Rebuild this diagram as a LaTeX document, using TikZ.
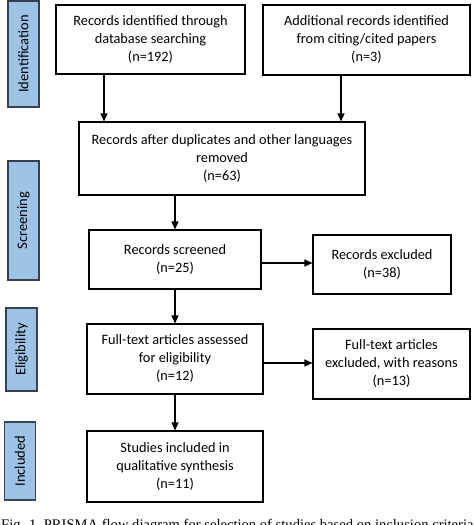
\documentclass[tikz,border=0pt]{standalone}
\usepackage{fontspec}
\setmainfont{Carlito}
\newfontfamily\capfont{Liberation Serif}
\usetikzlibrary{arrows.meta}
\definecolor{stageblue}{RGB}{157,195,230}
\definecolor{stageedge}{RGB}{55,65,80}
\begin{document}
\begin{tikzpicture}[x=1pt,y=-1pt,
  flowbox/.style={draw=black, line width=1.1pt, rectangle, align=center, inner sep=2pt,
     font=\fontsize{14.3}{18}\selectfont},
  stage/.style={draw=stageedge, line width=1.1pt, fill=stageblue, rectangle, rotate=90,
     inner sep=0pt, minimum height=31pt, font=\fontsize{14.5}{16}\selectfont},
  flowarrow/.style={-{Triangle[width=7pt,length=8pt]}, line width=1.3pt}]
\useasboundingbox (0,0) rectangle (474,525);
\clip (0,0) rectangle (474,525);
% stage labels
\node[stage, minimum width=106pt] (sid) at (23.5,54) {Identification};
\node[stage, minimum width=119pt] (ssc) at (23.5,220.5) {Screening};
\node[stage, minimum width=83pt] (sel) at (21.5,349.5) {Eligibility};
\node[stage, minimum width=78pt] (sin) at (20,461) {Included};
% boxes
\node[flowbox, minimum width=189pt, minimum height=69pt] (b1) at (150.5,39.5)
  {Records identified through\\database searching\\(n=192)};
\node[flowbox, minimum width=207pt, minimum height=70pt] (b2) at (366.5,40)
  {Additional records identified\\from citing/cited papers\\(n=3)};
\node[flowbox, minimum width=286pt, minimum height=73pt] (b3) at (222,158.5)
  {Records after duplicates and other languages\\removed\\(n=63)};
\node[flowbox, minimum width=172pt, minimum height=59pt] (b4) at (175,259.5)
  {Records screened\\(n=25)};
\node[flowbox, minimum width=138pt, minimum height=59pt] (b4x) at (382,264.5)
  {Records excluded\\(n=38)};
\node[flowbox, minimum width=176pt, minimum height=70pt] (b5) at (175,359)
  {Full-text articles assessed\\for eligibility\\(n=12)};
\node[flowbox, minimum width=157pt, minimum height=70pt] (b5x) at (391.5,364)
  {Full-text articles\\excluded, with reasons\\(n=13)};
\node[flowbox, minimum width=176pt, minimum height=71pt] (b6) at (175,466.5)
  {Studies included in\\qualitative synthesis\\(n=11)};
% arrow guide coordinates
\coordinate (g1) at (104,0);
\coordinate (g2) at (341,0);
\coordinate (g3) at (0,263);
\coordinate (g4) at (0,363);
\draw[flowarrow] (b1.south -| g1) -- (b3.north -| g1);
\draw[flowarrow] (b2.south -| g2) -- (b3.north -| g2);
\draw[flowarrow] (b3.south -| b4) -- (b4.north);
\draw[flowarrow] (b4.east |- g3) -- (b4x.west |- g3);
\draw[flowarrow] (b4.south) -- (b5.north);
\draw[flowarrow] (b5.east |- g4) -- (b5x.west |- g4);
\draw[flowarrow] (b5.south) -- (b6.north);
% caption (cut off at bottom, as in the reference)
\node[anchor=base west, inner sep=0pt, font=\capfont\fontsize{14.6}{16}\selectfont] (cap) at (1,529.7)
  {Fig. 1\enspace PRISMA flow diagram for selection of studies based on inclusion criteria};
\end{tikzpicture}
\end{document}
